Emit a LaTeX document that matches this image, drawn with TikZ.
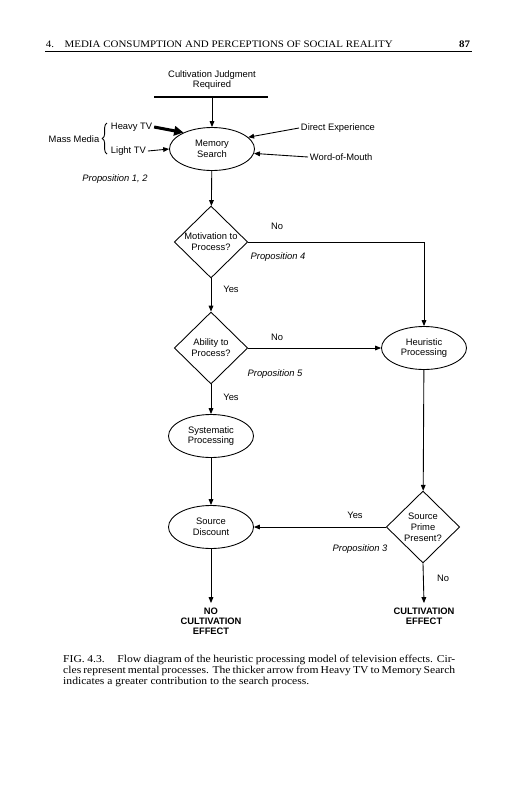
\documentclass[tikz,border=0pt]{standalone}
\usepackage{fontspec}
\setmainfont{Liberation Serif}
\setsansfont{Liberation Sans}
\newfontfamily\bookfont[FakeStretch=1.1]{Liberation Serif}
\usetikzlibrary{arrows.meta, positioning, shapes.geometric, decorations.pathreplacing}

\begin{document}
\begin{tikzpicture}[
    x=0.03cm, y=-0.03cm,
    every node/.style={font=\sffamily\fontsize{8}{9.2}\selectfont, align=center, inner sep=1.5pt},
    proc/.style={ellipse, draw, line width=0.75pt, minimum width=2.55cm, minimum height=1.29cm, inner sep=0pt},
    decide/.style={diamond, draw, line width=0.75pt, minimum width=2.2cm, minimum height=2.16cm, inner sep=0pt},
    arr/.style={-{Triangle[length=5pt, width=4pt]}, line width=0.75pt},
    heavyarr/.style={-{Triangle[length=8pt, width=8pt]}, line width=2.6pt},
    prop/.style={font=\sffamily\itshape\fontsize{8}{9.2}\selectfont},
    outcome/.style={font=\sffamily\bfseries\fontsize{8}{8.6}\selectfont, anchor=north, inner sep=3.6pt}
]
\useasboundingbox (0,0) rectangle (516,800);

% Running head
\node[font=\bookfont\fontsize{8.5}{10}\selectfont, anchor=base west] (head) at (44,47) {4.\hspace{1.05em}MEDIA CONSUMPTION AND PERCEPTIONS OF SOCIAL REALITY};
\node[font=\bookfont\bfseries\fontsize{8.5}{10}\selectfont, anchor=base east] (page) at (472,47) {87};
\coordinate (ruleL) at (45,51);
\coordinate (ruleR) at (472,51);
\draw[line width=0.5pt] (ruleL) -- (ruleR);

% Entry — judgment and memory search
\node (cjr) at (212,80) {Cultivation Judgment\\Required};
\coordinate (barL) at (154,97);
\coordinate (barR) at (268,97);
\draw[line width=1.8pt] (barL) -- (barR);
\node[proc] (mem) at (212,149) {Memory\\Search};

% Sources feeding the search
\node[anchor=west] (heavy) at (109,127) {Heavy TV};
\node[anchor=west] (light) at (109,151) {Light TV};
\node (mass) at (74,139) {Mass Media};
\coordinate (braceB) at (107,154);
\coordinate (braceT) at (107,123);
\draw[decorate, decoration={brace, amplitude=4pt}, line width=0.75pt] (braceB) -- (braceT);
\node[anchor=west] (direct) at (299,128) {Direct Experience};
\node[anchor=west] (wom) at (308,157) {Word-of-Mouth};
\node[prop] (p12) at (115,179) {Proposition 1, 2};

% Decisions
\node[decide] (mot) at (211,242) {Motivation to\\Process?};
\node[decide] (abil) at (211,348) {Ability to\\Process?};
\node[proc] (heur) at (424,348) {Heuristic\\Processing};
\node[proc] (sys) at (211,436) {Systematic\\Processing};
\node[proc] (disc) at (211,527) {Source\\Discount};
\node[decide] (prime) at (423,527) {Source\\Prime\\Present?};

% Branch labels
\node (no1) at (277,226) {No};
\node[prop] (p4) at (278,257) {Proposition 4};
\node (yes1) at (231,289) {Yes};
\node (no2) at (277,337) {No};
\node[prop] (p5) at (275,374) {Proposition 5};
\node (yes2) at (231,397) {Yes};
\node (yes3) at (355,515) {Yes};
\node[prop] (p3) at (360,549) {Proposition 3};
\node (no3) at (443,578) {No};

% Outcomes
\node[outcome] (noeff) at (211,603) {NO\\CULTIVATION\\EFFECT};
\node[outcome] (eff) at (424,603) {CULTIVATION\\EFFECT};

% Connections
\draw[arr] (mem |- barL) -- (mem.north);
\draw[heavyarr] (heavy.east) -- (mem.150);
\draw[arr] (light.east) -- (mem.west);
\draw[arr] (direct.west) -- (mem.18);
\draw[arr] (wom.west) -- (mem.-6);
\draw[arr] (mem) -- (mot);
\draw[arr] (mot) -- (abil);
\draw[arr] (abil) -- (sys);
\draw[arr] (sys) -- (disc);
\draw[arr] (mot.east) -| (heur.north);
\draw[arr] (abil.east) -- (heur.west);
\draw[arr] (heur) -- (prime);
\draw[arr] (prime.west) -- (disc.east);
\draw[arr] (prime.south) -- (eff.north);
\draw[arr] (disc.south) -- (noeff.north);

% Caption
\node[font=\bookfont\fontsize{9}{9.35}\selectfont, anchor=north west, text width=11.76cm, align=justify, inner sep=0pt] (cap) at (63,655)
    {FIG. 4.3.\hspace{1.2em}Flow diagram of the heuristic processing model of television effects. Cir-\linebreak
     cles represent mental processes. The thicker arrow from Heavy TV to Memory Search\linebreak
     indicates a greater contribution to the search process.};
\end{tikzpicture}
\end{document}
